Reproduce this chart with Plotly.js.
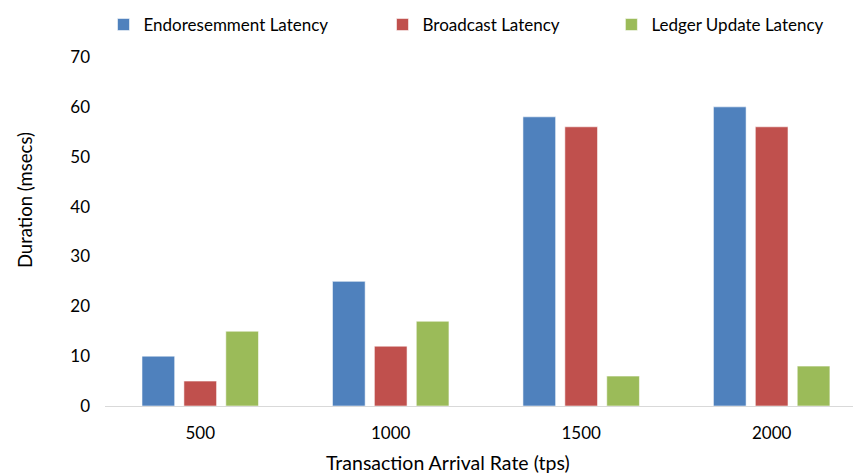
<!DOCTYPE html>
<html>
<head>
<meta charset="utf-8">
<script src="https://cdn.plot.ly/plotly-3.0.1.min.js"></script>
<style>html,body{margin:0;padding:0;background:#fff;}#chart{width:853px;height:476px;}</style>
</head>
<body>
<div id="chart"></div>
<script>
const categories = ['500', '1000', '1500', '2000'];
const seriesNames = ['Endoresemment Latency', 'Broadcast Latency', 'Ledger Update Latency'];
const endorsementLatency = [10, 25, 58, 60];
const broadcastLatency = [5, 12, 56, 56];
const ledgerUpdateLatency = [15, 17, 6, 8];
const colors = ['#4F81BD', '#C0504D', '#9BBB59'];
const yTicks = [0, 10, 20, 30, 40, 50, 60, 70];

const FONT = 'Lato, "Open Sans", sans-serif';
const allSeries = [endorsementLatency, broadcastLatency, ledgerUpdateLatency];
const legendKeys = ['legend', 'legend2', 'legend3'];
const legendX = [-0.002, 0.371, 0.677];

const traces = allSeries.map((vals, i) => ({
  type: 'bar',
  name: seriesNames[i],
  x: categories,
  y: vals,
  marker: {color: colors[i], line: {color: 'rgba(255,255,255,0.55)', width: 1}},
  legend: legendKeys[i],
  hoverinfo: 'x+y+name'
}));

const legendBase = {
  orientation: 'h', yanchor: 'middle', y: 1.0917, xanchor: 'left',
  bgcolor: 'rgba(0,0,0,0)', borderwidth: 0,
  font: {family: FONT, size: 17, color: '#000'}
};

const layout = {
  width: 853, height: 476,
  margin: {l: 105, r: 0, t: 57, b: 70, pad: 0},
  paper_bgcolor: '#fff', plot_bgcolor: '#fff',
  font: {family: FONT, size: 17, color: '#000'},
  barmode: 'group', bargap: 0.34, bargroupgap: 0.22,
  showlegend: true,
  legend: Object.assign({}, legendBase, {x: legendX[0]}),
  legend2: Object.assign({}, legendBase, {x: legendX[1]}),
  legend3: Object.assign({}, legendBase, {x: legendX[2]}),
  xaxis: {
    type: 'category', range: [-0.5, 3.427],
    showline: true, linecolor: '#D9D9D9', linewidth: 1,
    showgrid: false, zeroline: false, ticks: '',
    ticklabelstandoff: 12,
    tickfont: {family: FONT, size: 17, color: '#000'}
  },
  yaxis: {
    range: [0, 70], tickvals: yTicks, ticktext: yTicks.map(String),
    showline: false, showgrid: false, zeroline: false, ticks: '',
    ticklabelstandoff: 14,
    tickfont: {family: FONT, size: 17, color: '#000'}
  },
  annotations: [
    {text: 'Duration (msecs)', xref: 'paper', yref: 'paper', x: -0.107, y: 0.59,
     textangle: -90, showarrow: false, xanchor: 'center', yanchor: 'middle',
     font: {family: FONT, size: 18.5, color: '#000'}},
    {text: 'Transaction Arrival Rate (tps)', xref: 'paper', yref: 'paper', x: 0.4586, y: -0.163,
     showarrow: false, xanchor: 'center', yanchor: 'middle',
     font: {family: FONT, size: 19.5, color: '#000'}}
  ]
};

Plotly.newPlot('chart', traces, layout, {displayModeBar: false, responsive: false});
</script>
</body>
</html>
